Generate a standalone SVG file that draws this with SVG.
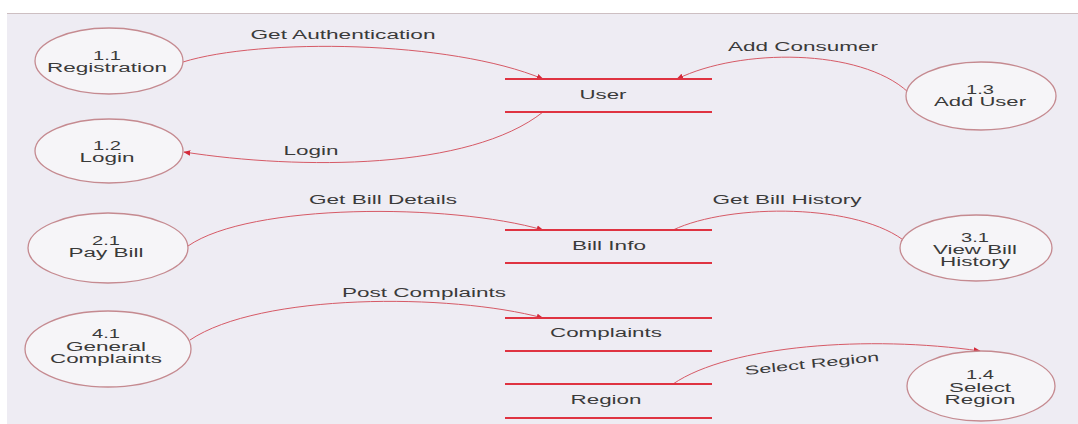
<svg xmlns="http://www.w3.org/2000/svg" width="1078" height="424" viewBox="0 0 1078 424">
<defs>
<marker id="ah" viewBox="0 0 10 10" refX="9" refY="5" markerWidth="7" markerHeight="7" orient="auto" markerUnits="userSpaceOnUse">
<path d="M0,1 L10,5 L0,9 Z" fill="#d42a3a"/>
</marker>
<style>
.bg{fill:#eeecf3}
.proc ellipse{fill:#f6f5f8;stroke:#c58a90;stroke-width:1.3}
.proc text,.store text{font-family:"Liberation Sans",Arial,sans-serif;font-size:12.5px;fill:#3a3a3a;text-anchor:middle}
.store line{stroke:#df3341;stroke-width:2}
.flow path{fill:none;stroke:#d65a66;stroke-width:1}
.lbl{font-family:"Liberation Sans",Arial,sans-serif;font-size:12.5px;fill:#3a3a3a;text-anchor:middle}
</style>
</defs>
<rect width="1078" height="424" fill="#ffffff"/>
<rect class="bg" x="7" y="13" width="1071" height="411"/>
<line x1="7" y1="13.5" x2="1078" y2="13.5" stroke="#cdbfc2" stroke-width="1"/>

<g id="connectors" class="flow">
<path d="M183,62 C260,38 450,40 543,79" marker-end="url(#ah)"/>
<path d="M908,92 C860,48 740,48 677,79" marker-end="url(#ah)"/>
<path d="M543,112 C470,170 300,170 184,152" marker-end="url(#ah)"/>
<path d="M188,246 C250,203 450,203 543,230" marker-end="url(#ah)"/>
<path d="M673,230 C730,203 860,203 907,243" marker-end="url(#ah)"/>
<path d="M190,340 C260,293 450,293 543,318" marker-end="url(#ah)"/>
<path d="M673,384 C730,345 870,335 980,351" marker-end="url(#ah)"/>
<text class="lbl" x="343" y="39" textLength="185" lengthAdjust="spacingAndGlyphs">Get Authentication</text>
<text class="lbl" x="803" y="51" textLength="150" lengthAdjust="spacingAndGlyphs">Add Consumer</text>
<text class="lbl" x="311" y="155" textLength="55" lengthAdjust="spacingAndGlyphs">Login</text>
<text class="lbl" x="383" y="204" textLength="148" lengthAdjust="spacingAndGlyphs">Get Bill Details</text>
<text class="lbl" x="787" y="204" textLength="149" lengthAdjust="spacingAndGlyphs">Get Bill History</text>
<text class="lbl" x="424" y="297" textLength="164" lengthAdjust="spacingAndGlyphs">Post Complaints</text>
<text class="lbl" x="812" y="368" textLength="135" lengthAdjust="spacingAndGlyphs" transform="rotate(-6 812 364)">Select Region</text>
</g>

<g id="p11" class="proc"><ellipse cx="109" cy="61" rx="74" ry="33"/><text x="107" y="60" textLength="28" lengthAdjust="spacingAndGlyphs">1.1</text><text x="107" y="72" textLength="120" lengthAdjust="spacingAndGlyphs">Registration</text></g>
<g id="p12" class="proc"><ellipse cx="109" cy="151" rx="74" ry="32"/><text x="107" y="150" textLength="28" lengthAdjust="spacingAndGlyphs">1.2</text><text x="107" y="162" textLength="55" lengthAdjust="spacingAndGlyphs">Login</text></g>
<g id="p21" class="proc"><ellipse cx="108" cy="248" rx="80" ry="35"/><text x="106" y="245" textLength="28" lengthAdjust="spacingAndGlyphs">2.1</text><text x="106" y="257" textLength="75" lengthAdjust="spacingAndGlyphs">Pay Bill</text></g>
<g id="p41" class="proc"><ellipse cx="108" cy="349" rx="83" ry="38"/><text x="106" y="338" textLength="28" lengthAdjust="spacingAndGlyphs">4.1</text><text x="106" y="351" textLength="80" lengthAdjust="spacingAndGlyphs">General</text><text x="106" y="363" textLength="112" lengthAdjust="spacingAndGlyphs">Complaints</text></g>
<g id="p13" class="proc"><ellipse cx="981" cy="96" rx="75" ry="34"/><text x="980" y="94" textLength="28" lengthAdjust="spacingAndGlyphs">1.3</text><text x="980" y="106" textLength="92" lengthAdjust="spacingAndGlyphs">Add User</text></g>
<g id="p31" class="proc"><ellipse cx="976" cy="248" rx="76" ry="33"/><text x="975" y="242" textLength="28" lengthAdjust="spacingAndGlyphs">3.1</text><text x="975" y="254" textLength="84" lengthAdjust="spacingAndGlyphs">View Bill</text><text x="975" y="266" textLength="70" lengthAdjust="spacingAndGlyphs">History</text></g>
<g id="p14" class="proc"><ellipse cx="981" cy="386" rx="74" ry="35"/><text x="980" y="379" textLength="28" lengthAdjust="spacingAndGlyphs">1.4</text><text x="980" y="392" textLength="62" lengthAdjust="spacingAndGlyphs">Select</text><text x="980" y="404" textLength="71" lengthAdjust="spacingAndGlyphs">Region</text></g>

<g id="sUser" class="store"><line x1="505" y1="79" x2="712" y2="79"/><line x1="505" y1="112" x2="712" y2="112"/><text x="603" y="99" textLength="47" lengthAdjust="spacingAndGlyphs">User</text></g>
<g id="sBill" class="store"><line x1="505" y1="230" x2="712" y2="230"/><line x1="505" y1="263" x2="712" y2="263"/><text x="609" y="250" textLength="74" lengthAdjust="spacingAndGlyphs">Bill Info</text></g>
<g id="sComp" class="store"><line x1="505" y1="318" x2="712" y2="318"/><line x1="505" y1="351" x2="712" y2="351"/><text x="606" y="337" textLength="112" lengthAdjust="spacingAndGlyphs">Complaints</text></g>
<g id="sReg" class="store"><line x1="505" y1="384" x2="712" y2="384"/><line x1="505" y1="418" x2="712" y2="418"/><text x="606" y="404" textLength="71" lengthAdjust="spacingAndGlyphs">Region</text></g>
</svg>
